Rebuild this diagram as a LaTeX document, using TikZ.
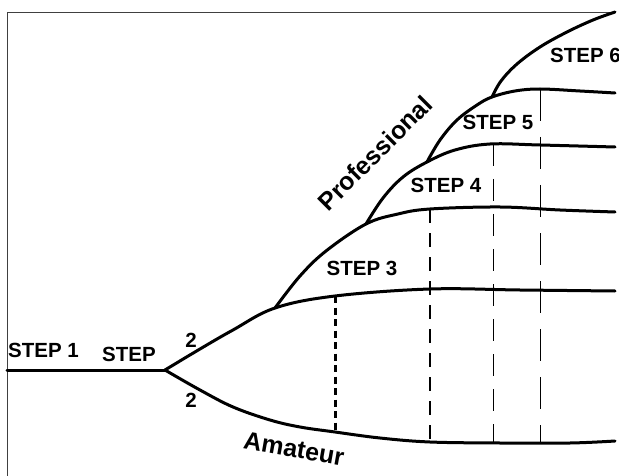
\documentclass[tikz,border=0pt]{standalone}
\usepackage{fontspec}
\setmainfont{Liberation Sans}
\begin{document}
\begin{tikzpicture}[x=1pt,y=-1pt,
  curve/.style={line width=3pt, line cap=round, line join=round},
  framel/.style={line width=0.9pt, black!75},
  lbl/.style={font=\bfseries\fontsize{20.5}{22}\selectfont, inner sep=0pt},
  big/.style={font=\bfseries\fontsize{25}{27}\selectfont, inner sep=0pt},
  dashA/.style={line width=3pt, dash pattern=on 7pt off 4.5pt},
  dashB/.style={line width=2.8pt, dash pattern=on 14pt off 10pt},
  dashC/.style={line width=1pt, dash pattern=on 22pt off 13pt},
  dashD/.style={line width=1pt, dash pattern=on 32pt off 16pt}]
\useasboundingbox (0,0) rectangle (619,476);

% key points
\coordinate (start) at (7,370);
\coordinate (fork) at (165,370);
\coordinate (jA) at (275,308);
\coordinate (jB) at (366,224);
\coordinate (jC) at (427,162);
\coordinate (jD) at (492,97);
\coordinate (top) at (615,12);
\coordinate (corner) at (7,12);
\coordinate (bottomleft) at (7,476);

% frame
\draw[framel] (bottomleft) -- (corner) -- (top);

% main line
\draw[curve] (start) -- (fork);

% upper (professional) branch
\draw[curve] plot[smooth, tension=0.6] coordinates {(fork) (200,349) (233,330) (jA) (335,296) (430,289) (520,290) (615,291)};
% lower (amateur) branch
\draw[curve] plot[smooth, tension=0.6] coordinates {(fork) (200,390) (233,407) (270,420) (300,427) (335,432) (380,438) (430,442) (500,443) (570,443) (615,441)};

% step curves
\draw[curve] plot[smooth, tension=0.6] coordinates {(jA) (300,276) (326,251) (jB) (398,214) (430,209) (500,207) (560,210) (615,212)};
\draw[curve] plot[smooth, tension=0.6] coordinates {(jB) (383,198) (403,177) (jC) (455,150) (490,144) (540,145) (615,147)};
\draw[curve] plot[smooth, tension=0.6] coordinates {(jC) (440,140) (457,120) (477,105) (jD) (515,91) (540,89) (580,91) (615,93)};
\draw[curve] plot[smooth, tension=0.6] coordinates {(jD) (501,81) (517,64) (540,47) (567,32) (593,20) (top)};

% vertical dashed lines
\coordinate (d1t) at (335,296); \coordinate (d1b) at (335,432);
\coordinate (d2t) at (430,209); \coordinate (d2b) at (430,442);
\coordinate (d3t) at (493,144); \coordinate (d3b) at (493,443);
\coordinate (d4t) at (540,89);  \coordinate (d4b) at (540,443);
\draw[dashA] (d1t) -- (d1b);
\draw[dashB] (d2t) -- (d2b);
\draw[dashC] (d3t) -- (d3b);
\draw[dashD] (d4t) -- (d4b);

% labels
\node[lbl] (s1) at (43.5,350) {STEP 1};
\node[lbl] (s2) at (129,354) {STEP};
\node[lbl] (n2a) at (191,340) {2};
\node[lbl] (n2b) at (191,400) {2};
\node[lbl] (s3) at (362,268) {STEP 3};
\node[lbl] (s4) at (446,185) {STEP 4};
\node[lbl] (s5) at (498,122) {STEP 5};
\node[lbl, anchor=west] (s6) at (550,55) {STEP 6};
\node[big, rotate=45] (prof) at (375,153) {Professional};
\node[big, rotate=-10] (amat) at (294,449) {Amateur};
\end{tikzpicture}
\end{document}
